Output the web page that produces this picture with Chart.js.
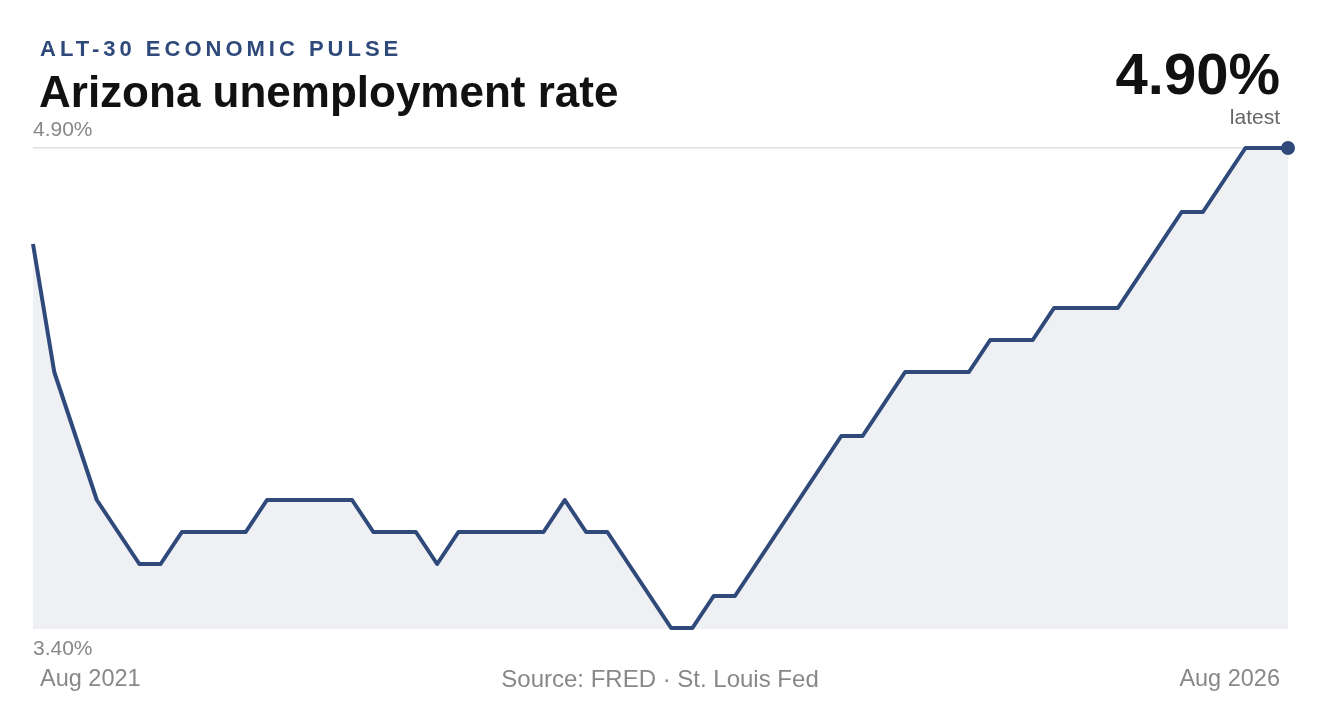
<!DOCTYPE html>
<html><head><meta charset="utf-8">
<script src="https://cdn.jsdelivr.net/npm/chart.js@4/dist/chart.umd.min.js"></script>
<style>
body{margin:0;width:1320px;height:720px;background:#fff;font-family:Arial,"Liberation Sans",sans-serif;position:relative;overflow:hidden}
.t{position:absolute;white-space:nowrap}
canvas{position:absolute;left:0;top:0}
</style></head><body>
<canvas id="c" width="1320" height="720"></canvas>
<div class="t" style="left:40px;top:36px;font-size:22px;font-weight:bold;letter-spacing:4px;color:#2f4a7a">ALT-30 ECONOMIC PULSE</div>
<div class="t" style="left:39px;top:67px;font-size:44px;font-weight:bold;color:#111">Arizona unemployment rate</div>
<div class="t" style="right:40px;top:40px;font-size:58px;font-weight:bold;color:#111">4.90%</div>
<div class="t" style="right:40px;top:105px;font-size:21px;color:#666">latest</div>
<div class="t" style="left:33px;top:117px;font-size:21px;color:#888">4.90%</div>
<div class="t" style="left:33px;top:636px;font-size:21px;color:#888">3.40%</div>
<div class="t" style="left:40px;top:665px;font-size:23.5px;color:#888">Aug 2021</div>
<div class="t" style="left:660px;transform:translateX(-50%);top:665px;font-size:24px;color:#888">Source: FRED · St. Louis Fed</div>
<div class="t" style="right:40px;top:665px;font-size:23.5px;color:#888">Aug 2026</div>
<script>
const startLabel = "Aug 2021";
const endLabel = "Aug 2026";
const rates = [4.6,4.2,4.0,3.8,3.7,3.6,3.6,3.7,3.7,3.7,3.7,3.8,3.8,3.8,3.8,3.8,3.7,3.7,3.7,3.6,
3.7,3.7,3.7,3.7,3.7,3.8,3.7,3.7,3.6,3.5,3.4,3.4,3.5,3.5,3.6,3.7,3.8,3.9,4.0,4.0,
4.1,4.2,4.2,4.2,4.2,4.3,4.3,4.3,4.4,4.4,4.4,4.4,4.5,4.6,4.7,4.7,4.8,4.9,4.9,4.9];
const yMin = 3.4, yMax = 4.9;
const labels = rates.map((_, i) => i);
new Chart(document.getElementById('c'), {
  type: 'line',
  data: { labels, datasets: [{
    data: rates, borderColor: '#2f4a7a', borderWidth: 4, fill: 'start', clip: false,
    backgroundColor: '#eff0f4', tension: 0, borderJoinStyle: 'round',
    pointRadius: rates.map((_, i) => i === rates.length - 1 ? 7 : 0),
    pointBackgroundColor: '#2f4a7a', pointBorderWidth: 0
  }]},
  options: {
    responsive: false, animation: false,
    layout: { padding: { left: 33, right: 32, top: 148, bottom: 92 } },
    plugins: { legend: { display: false }, tooltip: { enabled: false } },
    scales: {
      x: { display: false },
      y: { min: yMin, max: yMax, border: { display: false },
           afterBuildTicks: s => { s.ticks = [{ value: yMin }, { value: yMax }]; },
           ticks: { display: false },
           grid: { color: '#dde0e6', lineWidth: 1.5, drawTicks: false } }
    }
  }
});
</script>
</body></html>
